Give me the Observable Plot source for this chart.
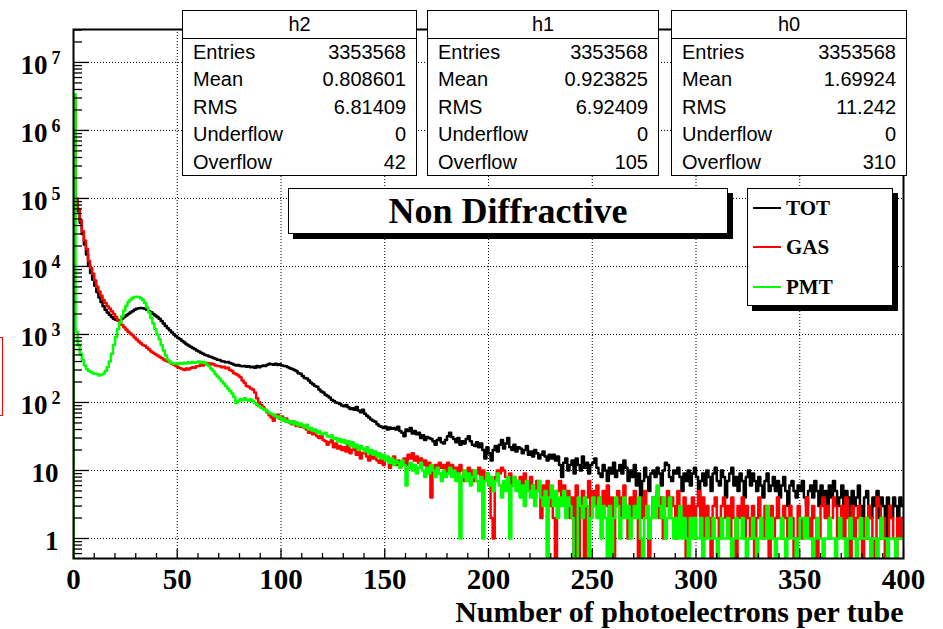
<!DOCTYPE html>
<html><head><meta charset="utf-8">
<script src="https://cdn.jsdelivr.net/npm/d3@7"></script>
<script src="https://cdn.jsdelivr.net/npm/@observablehq/plot@0.6"></script>
<style>
html,body{margin:0;padding:0;background:#fff;}
#wrap{position:relative;width:943px;height:629px;overflow:hidden;background:#fff;}
#wrap svg{position:absolute;left:0;top:0;}
.stat{position:absolute;background:#fff;border:1px solid #000;font-family:"Liberation Sans",Arial,sans-serif;font-size:20px;color:#000;box-sizing:border-box;}
.stat .hd{height:27px;line-height:27px;text-align:center;border-bottom:1px solid #000;}
.stat .row{display:flex;justify-content:space-between;height:27.4px;line-height:27.4px;padding:0 10px 0 10px;}
.pave{position:absolute;background:#fff;border:1px solid #000;box-shadow:5px 5px 0 #000;box-sizing:border-box;font-family:"Liberation Serif","Times New Roman",serif;font-weight:bold;color:#000;}
.leg-row{position:absolute;left:0;width:100%;height:39px;}
.leg-line{position:absolute;left:5px;width:28px;top:18px;height:2px;}
.leg-text{position:absolute;left:38px;top:0;line-height:39px;font-size:21px;}
</style>
</head><body>
<div id="wrap"></div>
<script>
// ---------------- data ----------------
const binWidth = 1;
const seriesNames = ["TOT", "GAS", "PMT"];
const seriesColors = ["#000000", "#ff0000", "#00ff00"];

const tot = [
3000000,95000,65000,44000,30000,21000,15000,10500,8000,6400,
5200,4200,3500,3000,2600,2300,2100,1950,1800,1700,
1640,1600,1620,1700,1800,1900,2000,2100,2200,2300,
2380,2420,2450,2430,2380,2300,2200,2120,2000,1900,
1800,1700,1580,1450,1330,1230,1150,1070,1000,940,
890,850,800,760,720,690,660,630,610,580,
560,540,520,500,490,475,465,450,440,425,
420,405,400,390,395,380,370,360,350,355,
345,340,345,335,340,330,335,325,345,330,
340,350,345,360,370,365,360,370,355,365,
350,345,340,330,320,310,300,290,270,265,
245,230,225,210,195,185,175,170,155,145,
140,130,125,118,110,105,100,98,95,90,
88,92,85,80,82,78,86,76,72,78,
68,64,60,56,54,52,48,45,44,42,
44,40,43,41,42,40,44,38,36,32,
40,38,42,35,38,34,36,30,33,28,
31,30,29,27,24,28,30,26,25,28,
32,36,31,29,26,30,24,27,25,29,
32,27,24,23,26,22,25,20,15,22,
18,14,20,23,19,24,28,21,25,30,
22,20,24,19,22,21,18,20,23,17,
19,16,20,18,15,17,19,16,14,17,
15,17,14,16,12,8,13,15,10,12,
14,9,15,12,10,16,11,13,9,12,
13,15,11,9,8,12,10,7,11,9,
13,8,10,12,9,14,11,7,10,8,
12,6,9,4,7,11,8,5,9,10,
8,11,9,6,10,13,12,8,7,10,
9,11,8,5,9,7,10,6,9,11,
8,4,7,9,6,10,8,5,9,11,
7,6,10,8,4,7,9,11,6,8,
5,9,7,4,8,10,6,9,7,5,
8,6,4,7,9,5,6,8,5,7,
4,6,8,5,3,6,7,5,4,6,
5,7,4,3,5,6,4,7,5,3,
6,4,5,3,6,4,7,5,3,4,
6,3,5,4,2,5,3,4,6,3,
2,4,5,3,2,4,3,5,2,4,
3,1,4,3,2,4,3,1,4,3
];

const gas = [
3200000,100000,70000,48000,33000,24000,18000,12000,9500,7800,
6200,5000,4300,3700,3200,2900,2600,2400,2200,2000,
1800,1650,1500,1380,1280,1180,1100,1030,970,900,
840,790,740,700,680,640,600,560,540,510,
490,470,450,430,410,400,390,370,360,345,
330,320,310,300,315,305,320,330,325,340,
345,360,350,370,380,360,375,365,350,345,
340,330,335,320,325,300,290,270,260,250,
235,210,195,175,170,160,155,140,115,100,
92,85,78,72,65,60,54,62,66,58,
62,55,58,52,50,48,52,45,47,44,
46,42,40,36,39,34,37,32,30,33,
28,27,24,26,28,22,25,21,23,20,
22,19,24,18,20,23,17,19,15,18,
20,16,14,18,15,17,14,13,16,12,
14,15,11,13,16,12,14,11,13,15,
12,17,15,18,14,16,13,15,12,14,
11,13,4,10,12,9,13,11,12,9,
13,10,12,8,11,9,12,10,7,9,
11,8,10,7,9,11,8,10,7,9,
6,2,1,8,10,9,11,10,8,7,
9,6,8,7,5,8,6,9,7,5,
8,6,4,7,5,2,6,4,7,3,
5,2,0,5,7,4,6,3,5,2,
4,0,6,0,3,5,0,4,7,2,
5,3,6,4,2,5,3,6,1,4,
0,3,5,2,4,6,3,1,4,2,
5,3,0,4,2,5,3,0,2,4,
3,5,2,4,1,3,5,2,4,3,
1,5,3,2,4,0,3,2,4,1,
3,5,2,4,1,3,2,0,3,4,
2,1,3,4,2,3,1,4,2,0,
3,2,4,1,3,2,1,3,0,2,
4,2,1,3,2,0,3,1,2,4,
2,1,3,2,1,3,2,0,1,3,
2,1,2,4,2,1,3,2,0,1,
3,4,2,3,1,2,4,3,1,2,
3,1,4,2,0,3,1,2,3,1,
0,2,1,3,2,0,1,4,3,1,
2,0,1,3,2,1,0,2,1,2
];

const pmt = [
3400000,1100,700,520,420,350,310,290,280,270,
265,260,250,255,265,290,330,400,520,700,
920,1200,1500,1850,2250,2650,3000,3250,3450,3550,
3600,3550,3400,3200,2900,2500,2100,1750,1450,1200,
1000,850,700,580,490,430,400,380,370,375,
365,380,370,385,375,390,380,395,385,390,
400,385,395,380,360,340,310,290,260,240,
225,205,190,175,160,148,135,120,98,105,
112,108,115,110,106,112,104,98,92,88,
84,80,77,74,70,68,66,63,60,62,
55,58,52,54,50,53,48,51,46,49,
45,43,47,40,42,38,40,36,38,34,
35,36,32,31,33,29,30,27,29,26,
28,25,27,23,26,22,24,20,23,21,
19,22,18,20,17,19,16,18,15,17,
14,16,13,15,12,14,13,11,14,12,
6,11,13,10,12,9,11,13,10,8,
11,9,12,10,8,11,9,7,10,8,
9,11,8,10,7,9,1,8,10,7,
9,6,8,10,7,5,8,1,7,9,
6,8,5,7,9,6,4,7,5,8,
1,6,8,5,7,4,6,3,7,5,
4,6,3,5,7,4,3,5,0,4,
6,3,5,2,4,3,5,2,4,3,
2,0,0,4,3,2,4,3,0,2,
4,3,2,4,1,3,2,0,3,0,
2,4,3,1,2,4,2,3,1,2,
3,2,4,1,0,2,3,1,2,4,
2,6,3,2,4,1,2,4,2,1,
2,1,3,1,2,1,0,2,1,2,
1,1,2,0,1,2,1,1,2,1,
0,1,2,1,1,2,1,0,1,2,
1,1,2,1,0,1,1,2,1,0,
1,2,1,1,3,1,2,1,0,1,
1,2,1,0,1,2,1,1,0,1,
2,2,1,2,1,1,0,1,2,1,
1,0,1,1,2,1,1,0,1,2,
1,1,0,1,2,1,1,0,1,2,
1,1,2,1,0,1,1,0,1,2,
1,1,0,1,1,1,0,1,1,1
];

const xTickLabels = [0, 50, 100, 150, 200, 250, 300, 350, 400];
const xGridValues = [50, 100, 150, 200, 250, 300, 350];
const yLabelValues = [1, 10, 100, 1000, 10000, 100000, 1000000, 10000000];
const yLabelBase = ["1", "10", "10", "10", "10", "10", "10", "10"];
const yLabelExp = ["", "", "2", "3", "4", "5", "6", "7"];
const xTitle = "Number of photoelectrons per tube";
const plotTitle = "Non Diffractive";

const statNames = ["h2", "h1", "h0"];
const statLabels = ["Entries", "Mean", "RMS", "Underflow", "Overflow"];
const statH2 = ["3353568", "0.808601", "6.81409", "0", "42"];
const statH1 = ["3353568", "0.923825", "6.92409", "0", "105"];
const statH0 = ["3353568", "1.69924", "11.242", "0", "310"];

// ---------------- build ----------------
const W = 943, H = 629, mL = 73, mR = 40, mT = 29, mB = 71;
const frameW = W - mL - mR, frameH = H - mT - mB;
const yDomain = [0.508, 3.05e7];
const xDomain = [0, 400];
const yFloor = yDomain[0];

function histRows(name, vals) {
  const rows = [{x: 0, y: yFloor, s: name}];
  vals.forEach((v, i) => rows.push({x: i * binWidth, y: v > 0 ? v : yFloor, s: name}));
  const last = vals[vals.length - 1];
  rows.push({x: vals.length * binWidth, y: last > 0 ? last : yFloor, s: name});
  return rows;
}
const seriesData = [tot, gas, pmt];

const logTicks = d3.scaleLog().domain(yDomain).ticks();
const yMinor = logTicks.filter(v => !yLabelValues.includes(v));
const xAll = d3.range(0, 401, 10);
const xMinor = xAll.filter(v => v % 50 !== 0);
const xMajor = xAll.filter(v => v % 50 === 0);

const serif = "Liberation Serif, Times New Roman, serif";
const yLabelRows = yLabelValues.map((v, i) => ({v, base: yLabelBase[i], exp: yLabelExp[i]}));

const lineMarks = seriesData.map((vals, k) =>
  Plot.line(histRows(seriesNames[k], vals), {
    x: "x", y: "y", curve: "step-after",
    stroke: seriesColors[k], strokeWidth: 2.5, clip: true
  })
);

const chart = Plot.plot({
  width: W, height: H,
  marginLeft: mL, marginRight: mR, marginTop: mT, marginBottom: mB,
  x: {domain: xDomain, axis: null},
  y: {type: "log", domain: yDomain, axis: null},
  style: {background: "transparent", overflow: "visible"},
  marks: [
    Plot.ruleX(xGridValues, {x: d => d, stroke: "#000", strokeWidth: 1, strokeDasharray: "1,2"}),
    Plot.ruleY(yLabelValues, {y: d => d, stroke: "#000", strokeWidth: 1, strokeDasharray: "1,2"}),
    ...lineMarks,
    Plot.tickY(yMinor, {y: d => d, insetRight: frameW - 9, stroke: "#000", strokeWidth: 1.3}),
    Plot.tickY(yLabelValues, {y: d => d, insetRight: frameW - 16, stroke: "#000", strokeWidth: 1.3}),
    Plot.tickX(xMinor, {x: d => d, insetTop: frameH - 5, stroke: "#000", strokeWidth: 1.3}),
    Plot.tickX(xMajor, {x: d => d, insetTop: frameH - 9, stroke: "#000", strokeWidth: 1.3}),
    Plot.frame({stroke: "#000", strokeWidth: 2}),
    Plot.text(xTickLabels, {x: d => d, text: d => String(d), frameAnchor: "bottom", dy: 21, lineAnchor: "middle",
      fontFamily: serif, fontWeight: "bold", fontSize: 29, fill: "#000"}),
    Plot.text(yLabelRows.filter(d => d.exp === ""), {y: "v", text: "base", frameAnchor: "left", textAnchor: "end", dx: -15, dy: 3,
      lineAnchor: "middle", fontFamily: serif, fontWeight: "bold", fontSize: 27, fill: "#000"}),
    Plot.text(yLabelRows.filter(d => d.exp !== ""), {y: "v", text: "base", frameAnchor: "left", textAnchor: "end", dx: -26, dy: 3,
      lineAnchor: "middle", fontFamily: serif, fontWeight: "bold", fontSize: 27, fill: "#000"}),
    Plot.text(yLabelRows.filter(d => d.exp !== ""), {y: "v", text: "exp", frameAnchor: "left", textAnchor: "end", dx: -13, dy: -4,
      lineAnchor: "middle", fontFamily: serif, fontWeight: "bold", fontSize: 18, fill: "#000"}),
    Plot.text([xTitle], {text: d => d, frameAnchor: "bottom-right", textAnchor: "end", lineAnchor: "middle", dy: 54,
      fontFamily: serif, fontWeight: "bold", fontSize: 30, fill: "#000"})
  ]
});

const wrap = document.getElementById("wrap");
wrap.appendChild(chart);

// red artifact box at left edge
const art = document.createElement("div");
art.style.cssText = "position:absolute;left:-20px;top:337px;width:23px;height:79px;border:1px solid #ff0000;box-sizing:border-box;";
wrap.appendChild(art);

// stat boxes
const statVals = [statH2, statH1, statH0];
const statGeom = [[182, 235], [427, 232], [671, 236]];
statNames.forEach((name, k) => {
  const box = document.createElement("div");
  box.className = "stat";
  box.style.left = statGeom[k][0] + "px";
  box.style.top = "10px";
  box.style.width = statGeom[k][1] + "px";
  box.style.height = "166px";
  const hd = document.createElement("div");
  hd.className = "hd"; hd.textContent = name;
  box.appendChild(hd);
  statLabels.forEach((lab, j) => {
    const r = document.createElement("div");
    r.className = "row";
    const a = document.createElement("span"); a.textContent = lab;
    const b = document.createElement("span"); b.textContent = statVals[k][j];
    r.appendChild(a); r.appendChild(b);
    box.appendChild(r);
  });
  wrap.appendChild(box);
});

// title pave
const tp = document.createElement("div");
tp.className = "pave";
tp.style.cssText += "left:288px;top:188px;width:440px;height:46px;text-align:center;line-height:44px;font-size:36px;";
tp.textContent = plotTitle;
wrap.appendChild(tp);

// legend
const lg = document.createElement("div");
lg.className = "pave";
lg.style.cssText += "left:747px;top:188px;width:146px;height:118px;";
seriesNames.forEach((n, k) => {
  const row = document.createElement("div");
  row.className = "leg-row";
  row.style.top = (k * 39.3) + "px";
  const ln = document.createElement("div");
  ln.className = "leg-line"; ln.style.background = seriesColors[k];
  const tx = document.createElement("div");
  tx.className = "leg-text"; tx.textContent = n;
  row.appendChild(ln); row.appendChild(tx);
  lg.appendChild(row);
});
wrap.appendChild(lg);
</script>
</body></html>
